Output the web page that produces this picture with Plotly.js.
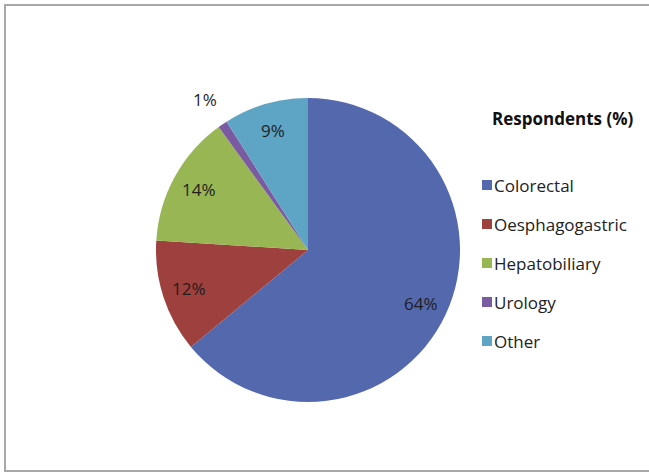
<!DOCTYPE html>
<html>
<head>
<meta charset="utf-8">
<script src="https://cdn.plot.ly/plotly-3.0.1.min.js"></script>
<style>
html,body{margin:0;padding:0;background:#fff;}
#wrap{position:relative;width:649px;height:473px;overflow:hidden;}
#chart{width:649px;height:473px;}
#frame{position:absolute;left:4px;top:4px;width:660px;height:464px;border:2px solid #a8a8a8;pointer-events:none;}
</style>
</head>
<body>
<div id="wrap"><div id="chart"></div><div id="frame"></div></div>
<script>
var categories = ["Colorectal", "Oesphagogastric", "Hepatobiliary", "Urology", "Other"];
var respondents = [64, 12, 14, 1, 9];
var colors = ["#5468AE", "#9E403D", "#98B654", "#7A5AA0", "#5EA4C4"];
var legendTitle = "Respondents (%)";

var FONT = "'Open Sans', Lato, sans-serif";
var W = 649, H = 473;
var CX = 308, CY = 250, R = 152;          // pie centre / radius in pixels (layout)
var INSIDE_R = 0.82, OUTSIDE_R = 1.2;      // label radius factors (layout)

var trace = {
  type: "pie",
  labels: categories,
  values: respondents,
  sort: false,
  direction: "clockwise",
  rotation: 0,
  marker: {colors: colors, line: {width: 0}},
  textinfo: "none",
  domain: {x: [(CX - R)/W, (CX + R)/W], y: [(H - CY - R)/H, (H - CY + R)/H]},
  showlegend: false,
  hoverinfo: "label+percent"
};

var annotations = [];
var shapes = [];

// percentage labels, placed at the middle angle of each slice
var total = respondents.reduce(function (a, b) { return a + b; }, 0);
var cum = 0;
respondents.forEach(function (v, i) {
  var frac = v / total;
  var mid = (cum + frac / 2) * 2 * Math.PI;
  cum += frac;
  var rf = frac < 0.03 ? OUTSIDE_R : INSIDE_R;
  var px = CX + Math.sin(mid) * R * rf;
  var py = CY - Math.cos(mid) * R * rf;
  annotations.push({
    xref: "paper", yref: "paper", x: px / W, y: 1 - py / H,
    xanchor: "center", yanchor: "middle", showarrow: false,
    text: Math.round(frac * 100) + "%",
    font: {family: FONT, size: 17, color: "#1e1e1e"}
  });
});

annotations.push({
  xref: "paper", yref: "paper", x: 490/W, y: 1 - 119/H,
  xanchor: "left", yanchor: "middle", showarrow: false,
  text: "<b>" + legendTitle + "</b>",
  font: {family: FONT, size: 17, color: "#111"}
});
categories.forEach(function (c, i) {
  var yc = 185 + i * 39;
  annotations.push({
    xref: "paper", yref: "paper", x: 492/W, y: 1 - yc/H,
    xanchor: "left", yanchor: "middle", showarrow: false,
    text: c, font: {family: FONT, size: 17, color: "#222"}
  });
  shapes.push({
    type: "rect", xref: "paper", yref: "paper",
    x0: 482/W, x1: 492/W, y0: 1 - (yc + 5)/H, y1: 1 - (yc - 5)/H,
    fillcolor: colors[i], line: {width: 0}
  });
});

var layout = {
  width: W, height: H,
  margin: {l: 0, r: 0, t: 0, b: 0},
  paper_bgcolor: "#fff",
  showlegend: false,
  annotations: annotations,
  shapes: shapes
};

Plotly.newPlot("chart", [trace], layout, {displayModeBar: false, staticPlot: true});
</script>
</body>
</html>
